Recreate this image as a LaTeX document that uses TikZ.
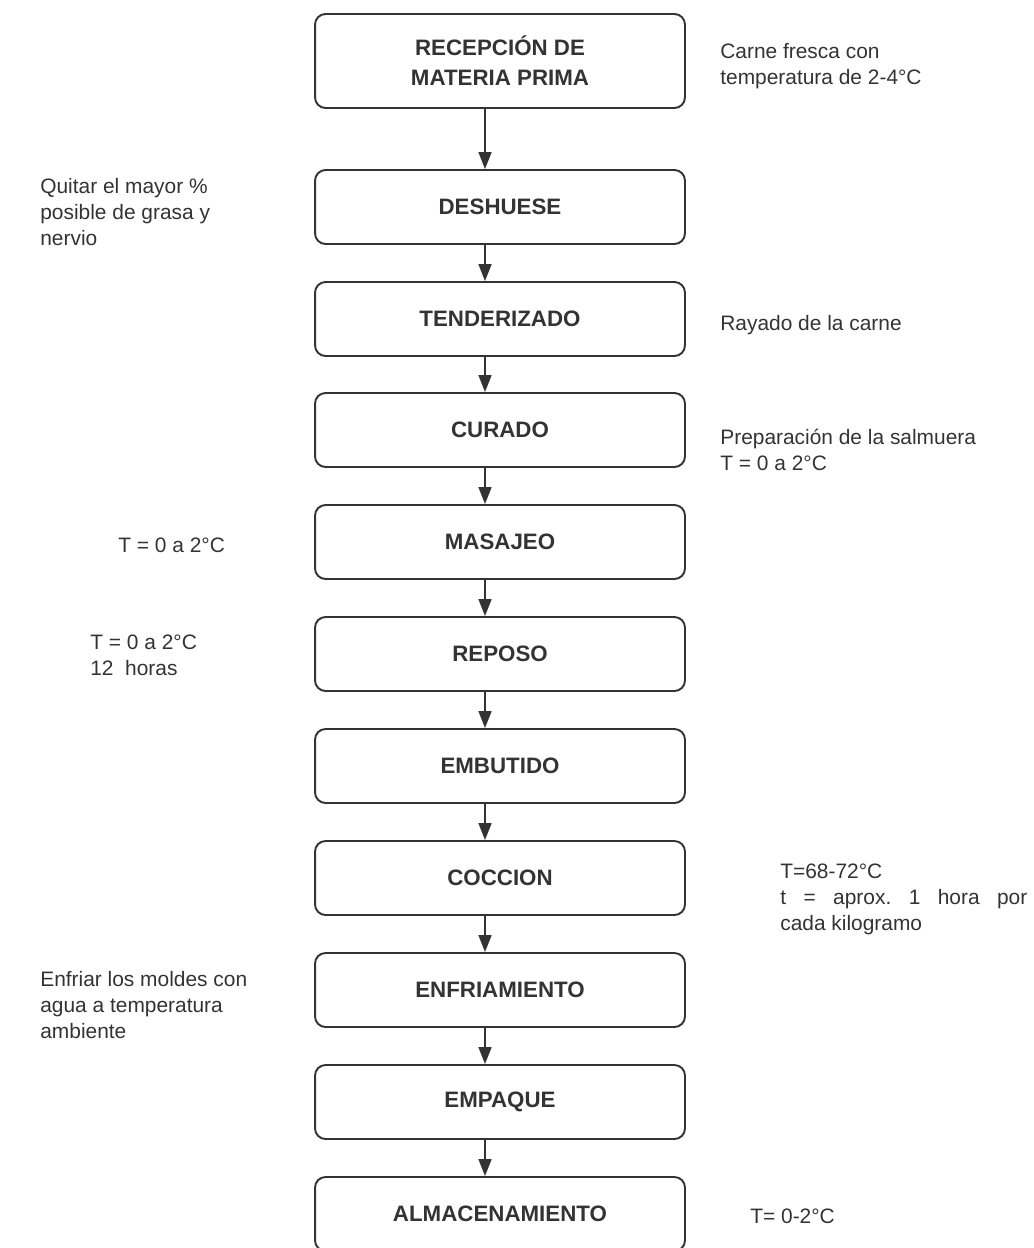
\documentclass[tikz,border=0pt]{standalone}
\usepackage{fontspec}
\setmainfont{Liberation Sans}
\usetikzlibrary{arrows.meta,positioning}
\definecolor{tinta}{gray}{0.2}
\tikzset{
  pasobox/.style={draw=tinta, line width=1.1pt, rounded corners=6pt, minimum width=7.4cm, minimum height=1.48cm, font=\fontsize{12.7}{17}\selectfont\bfseries, text=tinta, align=center},
  nota/.style={anchor=base west, inner sep=0pt, font=\fontsize{11.9}{14.8}\selectfont, text=tinta, align=left},
  flecha/.style={-{Triangle[length=3.4mm,width=2.6mm]}, line width=0.9pt, draw=tinta},
}

\begin{document}
\begin{tikzpicture}[x=0.02cm,y=-0.02cm]
  \useasboundingbox (0,0) rectangle (1034,1248);
  \clip (0,0) rectangle (1034,1248);

  % pasos del proceso
  \node[pasobox, minimum height=1.88cm] (recep) at (500,61) {RECEPCIÓN DE\\MATERIA PRIMA};
  \node[pasobox] (deshuese) at (500,207)  {DESHUESE};
  \node[pasobox] (tender)   at (500,319)  {TENDERIZADO};
  \node[pasobox] (curado)   at (500,430)  {CURADO};
  \node[pasobox] (masajeo)  at (500,542)  {MASAJEO};
  \node[pasobox] (reposo)   at (500,654)  {REPOSO};
  \node[pasobox] (embutido) at (500,766)  {EMBUTIDO};
  \node[pasobox] (coccion)  at (500,878)  {COCCION};
  \node[pasobox] (enfria)   at (500,990)  {ENFRIAMIENTO};
  \node[pasobox] (empaque)  at (500,1102) {EMPAQUE};
  \node[pasobox] (almacen)  at (500,1214) {ALMACENAMIENTO};

  % flechas
  \draw[flecha] ([xshift=-0.3cm]recep.south)    -- ([xshift=-0.3cm]deshuese.north);
  \draw[flecha] ([xshift=-0.3cm]deshuese.south) -- ([xshift=-0.3cm]tender.north);
  \draw[flecha] ([xshift=-0.3cm]tender.south)   -- ([xshift=-0.3cm]curado.north);
  \draw[flecha] ([xshift=-0.3cm]curado.south)   -- ([xshift=-0.3cm]masajeo.north);
  \draw[flecha] ([xshift=-0.3cm]masajeo.south)  -- ([xshift=-0.3cm]reposo.north);
  \draw[flecha] ([xshift=-0.3cm]reposo.south)   -- ([xshift=-0.3cm]embutido.north);
  \draw[flecha] ([xshift=-0.3cm]embutido.south) -- ([xshift=-0.3cm]coccion.north);
  \draw[flecha] ([xshift=-0.3cm]coccion.south)  -- ([xshift=-0.3cm]enfria.north);
  \draw[flecha] ([xshift=-0.3cm]enfria.south)   -- ([xshift=-0.3cm]empaque.north);
  \draw[flecha] ([xshift=-0.3cm]empaque.south)  -- ([xshift=-0.3cm]almacen.north);

  % notas (base = ultima linea)
  \node[nota] (nrecep)  at (720,84)  {Carne fresca con\\temperatura de 2-4°C};
  \node[nota] (ndeshu)  at (40,245)  {Quitar el mayor \%\\posible de grasa y\\nervio};
  \node[nota] (ntender) at (720,330) {Rayado de la carne};
  \node[nota] (ncurado) at (720,470) {Preparación de la salmuera\\T = 0 a 2°C};
  \node[nota] (nmasaj)  at (118,552) {T = 0 a 2°C};
  \node[nota] (nreposo) at (90,675)  {T = 0 a 2°C\\12~ horas};
  \node[nota] (ncoccion) at (780,930) {T=68-72°C\\\makebox[4.94cm][s]{t = aprox.\ 1 hora por}\\cada kilogramo};
  \node[nota] (nenfria) at (40,1038) {Enfriar los moldes con\\agua a temperatura\\ambiente};
  \node[nota] (nalmac)  at (750,1223) {T= 0-2°C};
\end{tikzpicture}
\end{document}
